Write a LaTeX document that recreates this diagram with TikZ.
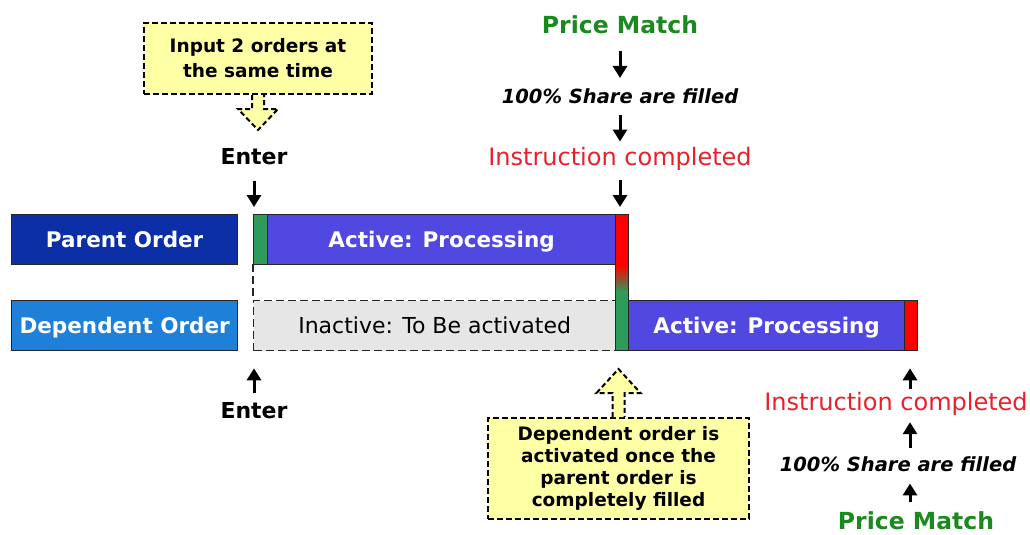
\documentclass[tikz,border=0pt]{standalone}
\usepackage{fontspec}
\setmainfont{DejaVu Sans}
\usetikzlibrary{arrows.meta}
\definecolor{parentblue}{RGB}{12,46,166}
\definecolor{depblue}{RGB}{30,128,216}
\definecolor{activeblue}{RGB}{80,72,224}
\definecolor{startgreen}{RGB}{46,154,92}
\definecolor{endred}{RGB}{255,0,0}
\definecolor{notegold}{RGB}{255,255,166}
\definecolor{idlegray}{RGB}{230,230,230}
\definecolor{matchgreen}{RGB}{26,138,30}
\definecolor{donered}{RGB}{232,32,40}
\tikzset{
  barbox/.style={draw=black!85,line width=1.3pt,inner sep=0,anchor=north west,
    minimum height=50pt,text=white,font=\bfseries\fontsize{21.5}{24}\selectfont,
    text height=15.5pt,text depth=0pt},
  seg/.style={draw=black!85,line width=1.3pt,inner sep=0,anchor=north west},
  lbl/.style={inner sep=0,anchor=base},
  bigbold/.style={lbl,font=\bfseries\fontsize{22}{24}\selectfont},
  share/.style={lbl,font=\bfseries\itshape\fontsize{19.5}{22}\selectfont},
  done/.style={lbl,text=donered,font=\fontsize{24}{26}\selectfont},
  match/.style={lbl,text=matchgreen,font=\bfseries\fontsize{23.5}{26}\selectfont},
  note/.style={draw=black,dash pattern=on 6pt off 3pt,line width=2pt,fill=notegold,
    inner sep=0,anchor=north west,align=center},
  hollow/.style={draw=black,dash pattern=on 5pt off 3pt,line width=2pt,fill=notegold,line join=miter},
  arr/.style={line width=3pt,-{Triangle[width=14pt,length=12pt]}},
}
\begin{document}
\begin{tikzpicture}[x=1pt,y=-1pt]
\useasboundingbox (0,0) rectangle (1030,535);

% order labels
\node[barbox,fill=parentblue,minimum width=226pt] (parent) at (11,214) {Parent Order};
\node[barbox,fill=depblue,minimum width=226pt] (dependent) at (11,300) {Dependent Order};

% inactive period of the dependent order
\node[seg,fill=idlegray,dash pattern=on 8pt off 4pt,minimum width=362pt,minimum height=50pt,
  font=\fontsize{22}{24}\selectfont,text height=16pt,text depth=0pt] (inactive) at (253,300)
  {Inactive: To Be activated};
\draw[black!85,line width=1.3pt,dash pattern=on 8pt off 4pt] (253,264) -- (inactive.north west);

% parent order bar
\node[seg,fill=startgreen,minimum width=14pt,minimum height=50pt] (pstart) at (253,214) {};
\node[barbox,fill=activeblue,minimum width=348pt] (pactive) at (267,214) {Active: Processing};

% hand-over strip: red end of parent, green start of dependent
\fill[endred] (615,214) rectangle (628,266);
\shade[top color=endred,bottom color=startgreen] (615,265) rectangle (628,292);
\fill[startgreen] (615,291) rectangle (628,350);
\node[seg,minimum width=13pt,minimum height=136pt] (handover) at (615,214) {};

% dependent order bar
\node[barbox,fill=activeblue,minimum width=276pt] (dactive) at (628,300) {Active: Processing};
\node[seg,fill=endred,minimum width=13pt,minimum height=50pt] (dend) at (904,300) {};

% entry events
\node[bigbold] (entertop) at (254,164) {Enter};
\node[bigbold] (enterbot) at (254,418) {Enter};
\draw[arr,shorten <=16pt,shorten >=7pt] (entertop.south) -- (entertop.south |- pstart.north);
\draw[arr,shorten <=9pt,shorten >=17pt] (enterbot.north) -- (enterbot.north |- inactive.south);

% completion chain of the parent order
\coordinate (ax) at (620,0);
\node[match] (pmtop) at (620,34) {Price Match};
\node[share] (sharetop) at (620,103) {100\% Share are filled};
\node[done] (donetop) at (620,165) {Instruction completed};
\draw[arr,shorten <=16pt,shorten >=10pt] (pmtop.south -| ax) -- (sharetop.north -| ax);
\draw[arr,shorten <=12pt,shorten >=5pt] (sharetop.south -| ax) -- (donetop.north -| ax);
\draw[arr,shorten <=10pt,shorten >=7pt] (donetop.south -| ax) -- (handover.north -| ax);

% completion chain of the dependent order
\coordinate (bx) at (910,0);
\node[done] (donebot) at (896,410) {Instruction completed};
\node[share] (sharebot) at (898,471) {100\% Share are filled};
\node[match] (pmbot) at (916,529) {Price Match};
\draw[arr,shorten <=3pt,shorten >=17pt] (donebot.north -| bx) -- (dend.south -| bx);
\draw[arr,shorten <=8pt,shorten >=7pt] (sharebot.north -| bx) -- (donebot.south -| bx);
\draw[arr,shorten <=9pt,shorten >=12pt] (pmbot.north -| bx) -- (sharebot.south -| bx);

% notes
\node[note,minimum width=228pt,minimum height=71pt,
  font=\bfseries\fontsize{18.5}{25}\selectfont] (notetop) at (143,22)
  {Input 2 orders at\\the same time};
\draw[hollow] ([xshift=-6pt]notetop.south) -- ++(0,14) -- ++(-14,0) -- ++(20,21)
  -- ++(20,-21) -- ++(-14,0) -- ++(0,-14);

\node[note,minimum width=261pt,minimum height=101pt,
  font=\bfseries\fontsize{18.5}{22.3}\selectfont] (notebot) at (487,417)
  {Dependent order is\\activated once the\\parent order is\\completely filled};
\draw[hollow] ([xshift=-6pt]notebot.north) -- ++(0,-24) -- ++(-16,0) -- ++(22,-24)
  -- ++(22,24) -- ++(-16,0) -- ++(0,24);
\end{tikzpicture}
\end{document}
